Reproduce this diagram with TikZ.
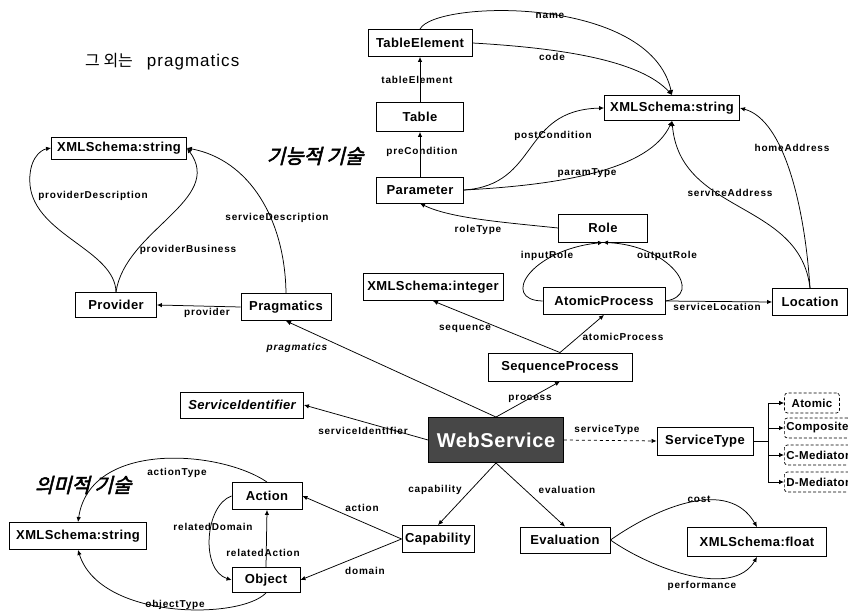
\documentclass[tikz,border=0pt]{standalone}
\usepackage{fontspec}
\setmainfont{Liberation Sans}
\newfontfamily\lblfam[LetterSpace=8]{Liberation Sans}
\newfontfamily\boxfam[LetterSpace=3]{Liberation Sans}
\newfontfamily\notefam[LetterSpace=6]{Liberation Sans}
\newfontfamily\krfam{Noto Sans CJK KR}
\newfontfamily\krhand[FakeSlant=0.25,FakeBold=2.5]{Noto Sans CJK KR}
\usetikzlibrary{arrows.meta,calc}

\begin{document}
\begin{tikzpicture}[x=1pt,y=-1pt,
  box/.style={draw, line width=0.9pt, inner sep=0pt,
    font=\boxfam\bfseries\fontsize{13}{15}\selectfont},
  wsbox/.style={box, fill=black!72, text=white,
    font=\boxfam\bfseries\fontsize{20}{22}\selectfont},
  subbox/.style={draw, densely dashed, line width=0.7pt, rounded corners=3pt,
    inner xsep=2pt, minimum height=20pt,
    font=\boxfam\bfseries\fontsize{11.5}{13}\selectfont},
  lbl/.style={inner sep=0pt, font=\lblfam\bfseries\fontsize{10}{12}\selectfont},
  ilbl/.style={lbl, font=\lblfam\bfseries\itshape\fontsize{10}{12}\selectfont},
  hand/.style={inner sep=0pt, font=\krhand\fontsize{20}{22}\selectfont},
  arr/.style={-{Latex[length=5pt,width=4.5pt]}, line width=0.75pt},
]
\useasboundingbox (0,0) rectangle (848,612);

% ---------- nodes ----------
\node[box, minimum width=104pt, minimum height=27pt] (te)   at (420,43)  {TableElement};
\node[box, minimum width=87pt,  minimum height=29pt] (tab)  at (420,117) {Table};
\node[box, minimum width=87pt,  minimum height=26pt] (par)  at (420,190) {Parameter};
\node[box, minimum width=135pt, minimum height=25pt] (xs1)  at (672,108) {XMLSchema:string};
\node[box, minimum width=75pt,  minimum height=27pt] (loc)  at (810,302) {Location};
\node[box, minimum width=89pt,  minimum height=28pt] (role) at (603,228) {Role};
\node[box, minimum width=122pt, minimum height=27pt] (ap)   at (604,301) {AtomicProcess};
\node[box, minimum width=140pt, minimum height=27pt] (xint) at (433,287) {XMLSchema:integer};
\node[box, minimum width=144pt, minimum height=28pt] (sp)   at (560,367) {SequenceProcess};
\node[wsbox, minimum width=135pt, minimum height=45pt] (ws) at (496,440) {WebService};
\node[box, minimum width=96pt,  minimum height=28pt] (st)   at (705,441) {ServiceType};

\node[subbox, minimum width=55pt] (atm) at (812,403) {Atomic};
\node[subbox, anchor=west] (cmp) at (784,428) {Composite};
\node[subbox, anchor=west] (cmd) at (784,455) {C-Mediator};
\node[subbox, anchor=west] (dmd) at (784,482) {D-Mediator};

\node[box, minimum width=81pt,  minimum height=25pt] (prov) at (116,305) {Provider};
\node[box, minimum width=90pt,  minimum height=27pt] (prag) at (286,307) {Pragmatics};
\node[box, minimum width=135pt, minimum height=22pt] (xs2)  at (119,148) {XMLSchema:string};
\node[box, minimum width=123pt, minimum height=26pt,
      font=\boxfam\bfseries\itshape\fontsize{13}{15}\selectfont] (sid) at (242,405) {ServiceIdentifier};
\node[box, minimum width=137pt, minimum height=27pt] (xs3)  at (78,536)  {XMLSchema:string};
\node[box, minimum width=70pt,  minimum height=27pt] (act)  at (267,496) {Action};
\node[box, minimum width=68pt,  minimum height=25pt] (obj)  at (266,580) {Object};
\node[box, minimum width=72pt,  minimum height=27pt] (cap)  at (438,539) {Capability};
\node[box, minimum width=90pt,  minimum height=26pt] (ev)   at (565,540) {Evaluation};
\node[box, minimum width=139pt, minimum height=29pt] (xf)   at (757,542) {XMLSchema:float};

% ---------- free texts ----------
\node[anchor=base west, inner sep=0pt] (note) at (85,67)
  {{\krfam\fontsize{16}{18}\selectfont 그 외는}\hspace{14pt}{\notefam\fontsize{17}{18}\selectfont pragmatics}};
\node[hand] (func) at (315,156) {기능적 기술};
\node[hand] (sem)  at (83,485)  {의미적 기술};

% ---------- connectors: functional part ----------
\draw[arr] (te.north) .. controls (435,0) and (650,-5) .. (xs1.north);
\draw[arr] (te.east) .. controls (560,48) and (640,60) .. (xs1.north);
\draw[arr] (tab.north) -- (te.south);
\draw[arr] (par.north) -- (tab.south);
\draw[arr] (par.east) .. controls (540,185) and (520,110) .. (xs1.west);
\draw[arr] (par.east) .. controls (560,185) and (650,170) .. (xs1.south);
\draw[arr] (loc.north) .. controls (805,210) and (785,120) .. (xs1.east);
\draw[arr] (loc.north) .. controls (800,200) and (680,215) .. (xs1.south);
\draw[arr] (role.west) .. controls (500,222) and (450,218) .. (par.south);
\draw[arr] (ap.west) .. controls (500,300) and (530,250) .. (role.south);
\draw[arr] (ap.east) .. controls (705,295) and (670,245) .. (role.south);
\draw[arr] (ap.east) -- (loc.west);
\draw[arr] (sp.north) -- (ap.south);
\draw[arr] (sp.north) -- (xint.south);
\draw[arr] (ws.north) -- (sp.south);

% ---------- connectors: pragmatics ----------
\draw[arr] (ws.north) -- (prag.south);
\draw[arr] (prag.west) -- (prov.east);
\draw[arr] (prov.north) .. controls (115,250) and (35,235) .. (30,185)
           .. controls (28,160) and (40,150) .. (xs2.west);
\draw[arr] (prov.north) .. controls (125,230) and (225,200) .. (xs2.east);
\draw[arr] (prag.north) .. controls (285,220) and (250,160) .. (xs2.east);

% ---------- connectors: service type ----------
\draw[arr] (ws.west) -- (sid.east);
\draw[arr, dashed] (ws.east) -- (st.west);
\coordinate (fork) at (768,441);
\draw[line width=0.75pt] (st.east) -- (fork);
\draw[arr] (fork) |- (atm.west);
\draw[arr] (fork) |- (cmp.west);
\draw[arr] (fork) |- (cmd.west);
\draw[arr] (fork) |- (dmd.west);

% ---------- connectors: semantic part ----------
\draw[arr] (ws.south) -- (cap.north);
\draw[arr] (ws.south) -- (ev.north);
\draw[arr] (ev.east) to[out=35, in=120] (xf.north);
\draw[arr] (ev.east) to[out=-35, in=-120, looseness=0.85] (xf.south);
\draw[arr] (cap.west) -- (act.east);
\draw[arr] (cap.west) -- (obj.east);
\draw[arr] (obj.north) -- (act.south);
\draw[arr] (act.west) .. controls (205,505) and (200,570) .. (obj.west);
\draw[arr] (act.north) .. controls (220,450) and (90,440) .. (xs3.north);
\draw[arr] (obj.south) .. controls (240,620) and (100,620) .. (xs3.south);

% ---------- connector labels ----------
\node[lbl] (l-name)   at (550,16)  {name};
\node[lbl] (l-code)   at (552,57)  {code};
\node[lbl] (l-te)     at (417,80)  {tableElement};
\node[lbl] (l-pre)    at (422,152) {preCondition};
\node[lbl] (l-post)   at (553,136) {postCondition};
\node[lbl] (l-ptype)  at (587,173) {paramType};
\node[lbl] (l-home)   at (792,148) {homeAddress};
\node[lbl] (l-saddr)  at (730,193) {serviceAddress};
\node[lbl] (l-rtype)  at (478,230) {roleType};
\node[lbl] (l-in)     at (547,256) {inputRole};
\node[lbl] (l-out)    at (667,256) {outputRole};
\node[lbl] (l-sloc)   at (717,307) {serviceLocation};
\node[lbl] (l-ap)     at (623,337) {atomicProcess};
\node[lbl] (l-seq)    at (465,329) {sequence};
\node[lbl] (l-proc)   at (530,399) {process};
\node[lbl] (l-stype)  at (607,430) {serviceType};
\node[ilbl] (l-prag)  at (297,348) {pragmatics};
\node[lbl] (l-prov)   at (207,313) {provider};
\node[lbl] (l-pdesc)  at (93,196)  {providerDescription};
\node[lbl] (l-pbus)   at (188,250) {providerBusiness};
\node[lbl] (l-sdesc)  at (277,218) {serviceDescription};
\node[lbl] (l-sid)    at (363,431) {serviceIdentifier};
\node[lbl] (l-cap)    at (435,490) {capability};
\node[lbl] (l-eval)   at (567,490) {evaluation};
\node[lbl] (l-cost)   at (699,499) {cost};
\node[lbl] (l-perf)   at (702,586) {performance};
\node[lbl] (l-atype)  at (177,473) {actionType};
\node[lbl] (l-rdom)   at (213,527) {relatedDomain};
\node[lbl] (l-ract)   at (263,553) {relatedAction};
\node[lbl] (l-action) at (362,508) {action};
\node[lbl] (l-domain) at (365,571) {domain};
\node[lbl] (l-otype)  at (175,605) {objectType};
\end{tikzpicture}
\end{document}
